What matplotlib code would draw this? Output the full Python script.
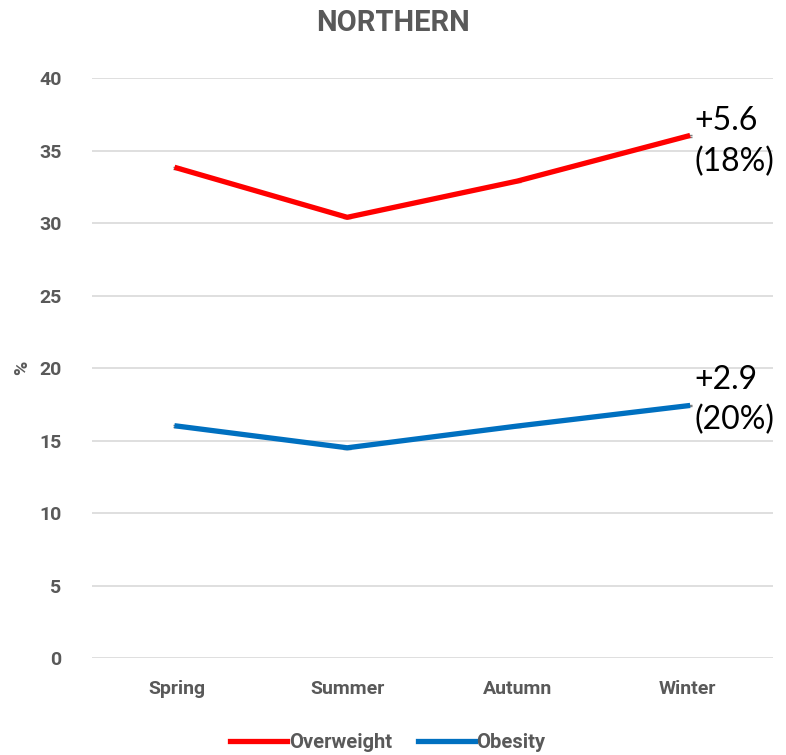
import numpy as np
import matplotlib.pyplot as plt
from matplotlib.lines import Line2D

seasons = ['Spring', 'Summer', 'Autumn', 'Winter']
overweight = [33.8, 30.4, 32.9, 36.0]
obesity = [16.0, 14.5, 16.0, 17.4]
yticks = [0, 5, 10, 15, 20, 25, 30, 35, 40]
notes = {'Overweight': '+5.6\n(18%)', 'Obesity': '+2.9\n(20%)'}

plt.rcParams['font.family'] = ['Roboto', 'DejaVu Sans']
grey = '#595959'
red = '#FF0000'
blue = '#0070C0'

fig = plt.figure(figsize=(7.86, 7.55), dpi=100)
ax = fig.add_axes([0.117, 0.1285, 0.866, 0.768])

x = np.arange(len(seasons))
ax.errorbar(x, overweight, yerr=0.05, color=red, lw=3.8, ecolor='#7f7f7f',
            elinewidth=1, capsize=3, zorder=3)
ax.errorbar(x, obesity, yerr=0.05, color=blue, lw=3.8, ecolor='#7f7f7f',
            elinewidth=1, capsize=3, zorder=3)

ax.annotate(notes['Overweight'], (x[-1], overweight[-1]), xytext=(5, -4),
            textcoords='offset points', va='center', ha='left', fontsize=23,
            family=['Lato', 'DejaVu Sans'], color='black', linespacing=1.42)
ax.annotate(notes['Obesity'], (x[-1], obesity[-1]), xytext=(5, 4),
            textcoords='offset points', va='center', ha='left', fontsize=23,
            family=['Lato', 'DejaVu Sans'], color='black', linespacing=1.42)

ax.set_xlim(-0.5, 3.5)
ax.set_ylim(0, 40)
ax.set_yticks(yticks)
ax.set_xticks(x)
ax.set_xticklabels(seasons)
ax.grid(axis='y', color='#d9d9d9', lw=1.2)
ax.set_axisbelow(True)
for s in ax.spines.values():
    s.set_visible(False)
ax.tick_params(length=0, labelsize=14, labelcolor=grey, pad=16)
ax.tick_params(axis='y', pad=22)
for lab in ax.get_xticklabels() + ax.get_yticklabels():
    lab.set_fontweight('bold')

ax.set_ylabel('%', fontsize=14, fontweight='bold', color=grey, labelpad=6)
fig.suptitle('NORTHERN', fontsize=21, fontweight='bold', color=grey, y=0.988)

handles = [Line2D([], [], color=red, lw=3.8), Line2D([], [], color=blue, lw=3.8)]
leg = ax.legend(handles, ['Overweight', 'Obesity'], loc='upper center',
                bbox_to_anchor=(0.435, -0.098), ncol=2, frameon=False,
                fontsize=14.5, handlelength=2.8, handletextpad=0.1,
                columnspacing=1.3)
for t in leg.get_texts():
    t.set_color(grey)
    t.set_fontweight('bold')

fig.savefig('out.png', dpi=100)
